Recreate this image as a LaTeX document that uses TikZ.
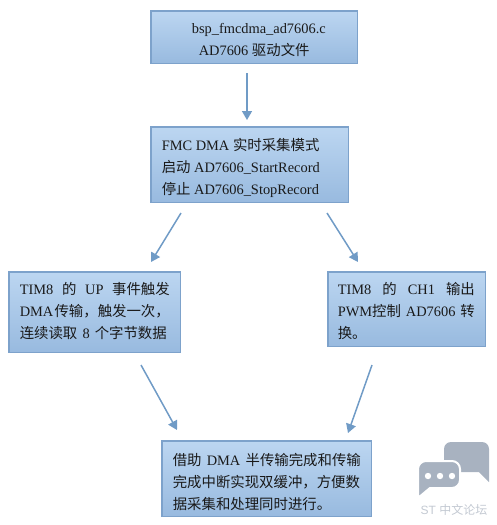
\documentclass[tikz,border=0pt]{standalone}
\usepackage{fontspec}
\setmainfont{Liberation Serif}
\newfontfamily\cjk{Noto Sans CJK SC}
\newfontfamily\wmfont{Liberation Sans}
\newfontfamily\wmcjk{Noto Sans CJK SC}
\usetikzlibrary{arrows.meta}
\definecolor{boxtop}{HTML}{BCD6F1}
\definecolor{boxbot}{HTML}{98BADF}
\definecolor{boxedge}{HTML}{7DA2CB}
\definecolor{linkcol}{HTML}{709BC6}
\definecolor{wmark}{HTML}{A8B2C0}
\definecolor{wmtext}{HTML}{C3C9D2}
\newcommand\cj[1]{{\cjk #1}}
\newcommand\lne[1]{\hbox to \linewidth{#1}}
\newcommand\boxtext[5]{\makebox[#1pt][l]{\hspace*{#2pt}\raisebox{#5pt}[0pt][0pt]{\parbox[c]{#3pt}{\fontsize{14.4pt}{22pt}\selectfont\setlength\parskip{0pt}\setlength\baselineskip{22pt}#4}}}}
\tikzset{
  flowbox/.style={draw=boxedge,line width=1.6pt,top color=boxtop,bottom color=boxbot,inner sep=0pt,anchor=north west,outer sep=0pt,text=black!90},
  link/.style={draw=linkcol,line width=1.5pt,-{Triangle[length=9pt,width=10pt]}},
}
\begin{document}
\begin{tikzpicture}[x=1pt,y=-1pt]
\useasboundingbox (0,0) rectangle (497,525);
\node[flowbox,minimum width=206.5pt,minimum height=52.5pt] (b1) at (150.8,10.8)
  {\boxtext{206.5}{41}{150}{\lne{bsp\_fmcdma\_ad7606.c\hfil}\lne{\hspace*{7pt}AD7606 \cj{驱动文件}\hfil}}{-5}};
\node[flowbox,minimum width=197.5pt,minimum height=75.5pt] (b2) at (150.8,126.8)
  {\boxtext{197.5}{11}{175}{\lne{FMC DMA \cj{实时采集模式}\hfil}\lne{\cj{启动} AD7606\_StartRecord\hfil}\lne{\cj{停止} AD7606\_StopRecord\hfil}}{-5.5}};
\node[flowbox,minimum width=171.5pt,minimum height=80.5pt] (b3) at (8.8,271.8)
  {\boxtext{171.5}{11}{150}{\lne{TIM8\hfil\cj{的}\hfil UP\hfil\cj{事件触发}}\lne{DMA\hfil\cj{传输，触发一次，}}\hbox to 147pt{\cj{连续读取}\hfil 8\hfil\cj{个字节数据}}}{-1}};
\node[flowbox,minimum width=157.5pt,minimum height=74.5pt] (b4) at (327.8,271.8)
  {\boxtext{157.5}{10}{137}{\lne{TIM8\hfil\cj{的}\hfil CH1\hfil\cj{输出}}\lne{PWM\cj{控制}\hfil AD7606\hfil\cj{转}}\lne{\cj{换。}\hfil}}{-4}};
\node[flowbox,minimum width=209.5pt,minimum height=75.5pt] (b5) at (161.8,440.8)
  {\boxtext{209.5}{11}{188}{\lne{\cj{借助}\hfil DMA\hfil\cj{半传输完成和传输}}\lne{\cj{完成中断实现双缓冲，方便数}\hfil}\lne{\cj{据采集和处理同时进行。}\hfil}}{-5.5}};
\coordinate (a1s) at (247,73);
\coordinate (a1e) at (247,120);
\coordinate (a2s) at (181,213);
\coordinate (a2e) at (151,262);
\coordinate (a3s) at (327,213);
\coordinate (a3e) at (358,262);
\coordinate (a4s) at (141,365);
\coordinate (a4e) at (177,430);
\coordinate (a5s) at (372,365);
\coordinate (a5e) at (348,433);
\draw[link] (a1s) -- (a1e);
\draw[link] (a2s) -- (a2e);
\draw[link] (a3s) -- (a3e);
\draw[link] (a4s) -- (a4e);
\draw[link] (a5s) -- (a5e);
% watermark
\fill[wmark] [rounded corners=7pt] (444,442) -- (489,442) [sharp corners] -- (489,482) -- (479,472) [rounded corners=7pt] -- (444,472) -- cycle;
\path[fill=wmark,draw=white,line width=2pt] (418,480) [rounded corners=8pt] -- (418,461) -- (460,461) -- (460,488) [sharp corners] -- (430,488) -- (418,498) -- cycle;
\fill[white] (428,476) circle[radius=3.2] (440,476) circle[radius=3.2] (452,476) circle[radius=3.2];
\node[inner sep=0pt,text=wmtext] (wm) at (454,510) {\fontsize{12pt}{12pt}\selectfont\wmfont ST \wmcjk 中文论坛};
\end{tikzpicture}
\end{document}
